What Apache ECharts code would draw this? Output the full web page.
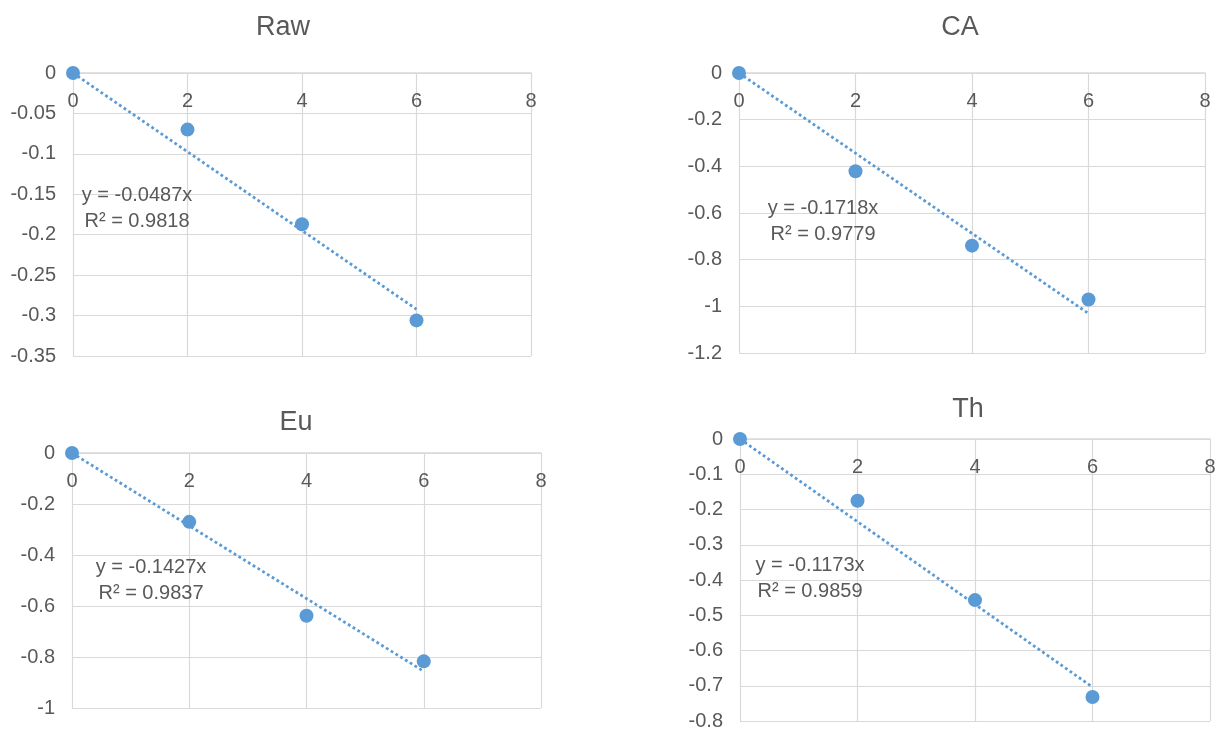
<!DOCTYPE html>
<html>
<head>
<meta charset="utf-8">
<script src="https://cdn.jsdelivr.net/npm/echarts@6/dist/echarts.min.js"></script>
<style>
html,body{margin:0;padding:0;background:#fff;}
#chart{width:1231px;height:734px;}
</style>
</head>
<body>
<div id="chart"></div>
<script>
// ---- data ----
const xValues = [0, 2, 4, 6];
const rawValues = [0, -0.070, -0.187, -0.306];
const caValues = [0, -0.421, -0.740, -0.971];
const euValues = [0, -0.270, -0.638, -0.817];
const thValues = [0, -0.175, -0.457, -0.732];
const panelTitles = ['Raw', 'CA', 'Eu', 'Th'];
const trendSlopes = [-0.0487, -0.1718, -0.1427, -0.1173];
const trendR2 = ['0.9818', '0.9779', '0.9837', '0.9859'];
const yMins = [-0.35, -1.2, -1, -0.8];
const yIntervals = [0.05, 0.2, 0.2, 0.1];
const xMax = 8;
const xInterval = 2;

// ---- layout (pixels) ----
const grids = [
  {left: 73, top: 73, width: 458, height: 283},
  {left: 739, top: 73, width: 466, height: 280},
  {left: 72, top: 453, width: 469, height: 255},
  {left: 740, top: 439, width: 470, height: 282}
];
const titlePos = [[278, 9], [955, 9], [291, 404], [963, 391]];
const eqPos = [[137, 208], [823, 221], [151, 580], [810, 578]];

const seriesValues = [rawValues, caValues, euValues, thValues];
const blue = '#5b9bd5';
const textColor = '#595959';
const gridColor = '#d9d9d9';
const font = "'Liberation Sans', Arial, sans-serif";

const chart = echarts.init(document.getElementById('chart'), null, {renderer: 'canvas'});

const option = {
  backgroundColor: '#ffffff',
  animation: false,
  title: panelTitles.map((t, i) => ({
    text: t,
    left: titlePos[i][0],
    top: titlePos[i][1],
    textAlign: 'center',
    textStyle: {fontFamily: font, fontSize: 27, fontWeight: 'normal', color: textColor}
  })),
  grid: grids.map(g => Object.assign({containLabel: false}, g)),
  xAxis: grids.map((g, i) => ({
    type: 'value',
    gridIndex: i,
    position: 'top',
    min: 0,
    max: xMax,
    interval: xInterval,
    axisLine: {show: true, lineStyle: {color: gridColor, width: 1.5}},
    axisTick: {show: false},
    axisLabel: {inside: true, margin: 18, color: textColor, fontFamily: font, fontSize: 20},
    splitLine: {show: true, lineStyle: {color: gridColor, width: 1.2}}
  })),
  yAxis: grids.map((g, i) => ({
    type: 'value',
    gridIndex: i,
    min: yMins[i],
    max: 0,
    interval: yIntervals[i],
    axisLine: {show: false},
    axisTick: {show: false},
    axisLabel: {margin: 17, color: textColor, fontFamily: font, fontSize: 20},
    splitLine: {show: true, lineStyle: {color: gridColor, width: 1.2}}
  })),
  series: [],
  graphic: eqPos.map((p, i) => ({
    type: 'text',
    x: p[0],
    y: p[1],
    z: 10,
    style: {
      text: 'y = ' + trendSlopes[i].toFixed(4) + 'x\nR² = ' + trendR2[i],
      fill: textColor,
      font: '20px ' + font,
      align: 'center',
      verticalAlign: 'middle',
      lineHeight: 26
    }
  }))
};

seriesValues.forEach((vals, i) => {
  const lastX = xValues[xValues.length - 1];
  option.series.push({
    type: 'line',
    xAxisIndex: i,
    yAxisIndex: i,
    data: [[0, 0], [lastX, trendSlopes[i] * lastX]],
    symbol: 'none',
    lineStyle: {color: blue, width: 2.8, type: [2.8, 2.8]},
    z: 2
  });
  option.series.push({
    type: 'scatter',
    xAxisIndex: i,
    yAxisIndex: i,
    data: xValues.map((x, k) => [x, vals[k]]),
    symbol: 'circle',
    symbolSize: 14,
    itemStyle: {color: blue, opacity: 1},
    z: 3
  });
});

chart.setOption(option);
</script>
</body>
</html>
